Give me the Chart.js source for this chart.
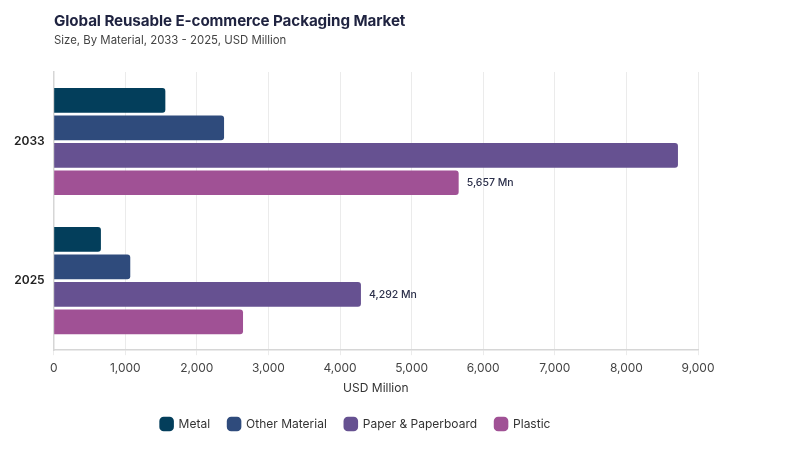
<!DOCTYPE html>
<html>
<head>
<meta charset="utf-8">
<script src="https://cdn.jsdelivr.net/npm/chart.js@4.4.1/dist/chart.umd.min.js"></script>
<style>
  html, body { margin: 0; padding: 0; background: #fff; }
  #wrap { position: relative; width: 800px; height: 450px; }
  #title { position: absolute; left: 54px; top: 11px; font: 700 15.2px Inter, sans-serif; color: #1f2340; letter-spacing: -0.1px; }
  #subtitle { position: absolute; left: 54px; top: 33px; font: 400 11.4px Inter, sans-serif; color: #444; }
  canvas { position: absolute; left: 0; top: 0; }
</style>
</head>
<body>
<div id="wrap">
  <canvas id="chart" width="800" height="450"></canvas>
  <div id="title">Global Reusable E-commerce Packaging Market</div>
  <div id="subtitle">Size, By Material, 2033 - 2025, USD Million</div>
</div>
<script>
const years = ['2033', '2025'];
const metal = [1560, 660];
const otherMaterial = [2380, 1070];
const paper = [8720, 4292];
const plastic = [5657, 2645];
const seriesNames = ['Metal', 'Other Material', 'Paper & Paperboard', 'Plastic'];
const seriesColors = ['#033e5b', '#2f4b7c', '#665191', '#a05195'];
// which bar gets a value label: [datasetIndex, dataIndex]
const labelled = [[3, 0], [2, 1]];

const valueLabels = {
    id: 'valueLabels',
    afterDatasetsDraw(chart) {
        const ctx = chart.ctx;
        ctx.save();
        ctx.font = '500 10.5px Inter, sans-serif';
        ctx.fillStyle = '#2b2f4a';
        ctx.textBaseline = 'middle';
        labelled.forEach(([ds, i]) => {
            const bar = chart.getDatasetMeta(ds).data[i];
            const v = chart.data.datasets[ds].data[i];
            ctx.fillText(v.toLocaleString('en-US') + ' Mn', bar.x + 8, bar.y);
        });
        ctx.restore();
    }
};

const allSeries = [metal, otherMaterial, paper, plastic];

new Chart(document.getElementById('chart'), {
    type: 'bar',
    data: {
        labels: years,
        datasets: allSeries.map((d, k) => ({
            label: seriesNames[k],
            data: d,
            backgroundColor: seriesColors[k],
            borderRadius: 3,
            borderSkipped: 'start',
            categoryPercentage: 0.79,
            barPercentage: 0.9
        }))
    },
    options: {
        indexAxis: 'y',
        responsive: false,
        animation: false,
        layout: { padding: { top: 72, right: 102, left: 13, bottom: 10 } },
        scales: {
            x: {
                min: 0,
                max: 9000,
                ticks: {
                    stepSize: 1000,
                    color: '#444',
                    font: { family: 'Inter', size: 12 },
                    padding: 6,
                    callback: v => v.toLocaleString('en-US')
                },
                grid: { color: '#ebebeb', tickLength: 5 },
                border: { color: '#d6d6d6', width: 1.5 },
                title: { display: true, text: 'USD Million', color: '#333', font: { family: 'Inter', size: 12 }, padding: { top: 0 } }
            },
            y: {
                ticks: { color: '#222', font: { family: 'Inter', size: 12, weight: '600' }, padding: 1 },
                grid: { display: false },
                border: { color: '#d6d6d6', width: 1.5 }
            }
        },
        plugins: {
            legend: {
                position: 'bottom',
                labels: {
                    usePointStyle: true,
                    pointStyle: 'rectRounded',
                    boxWidth: 14,
                    boxHeight: 14,
                    padding: 18,
                    color: '#333',
                    font: { family: 'Inter', size: 12 }
                }
            },
            tooltip: { enabled: false }
        }
    },
    plugins: [valueLabels]
});
</script>
</body>
</html>
